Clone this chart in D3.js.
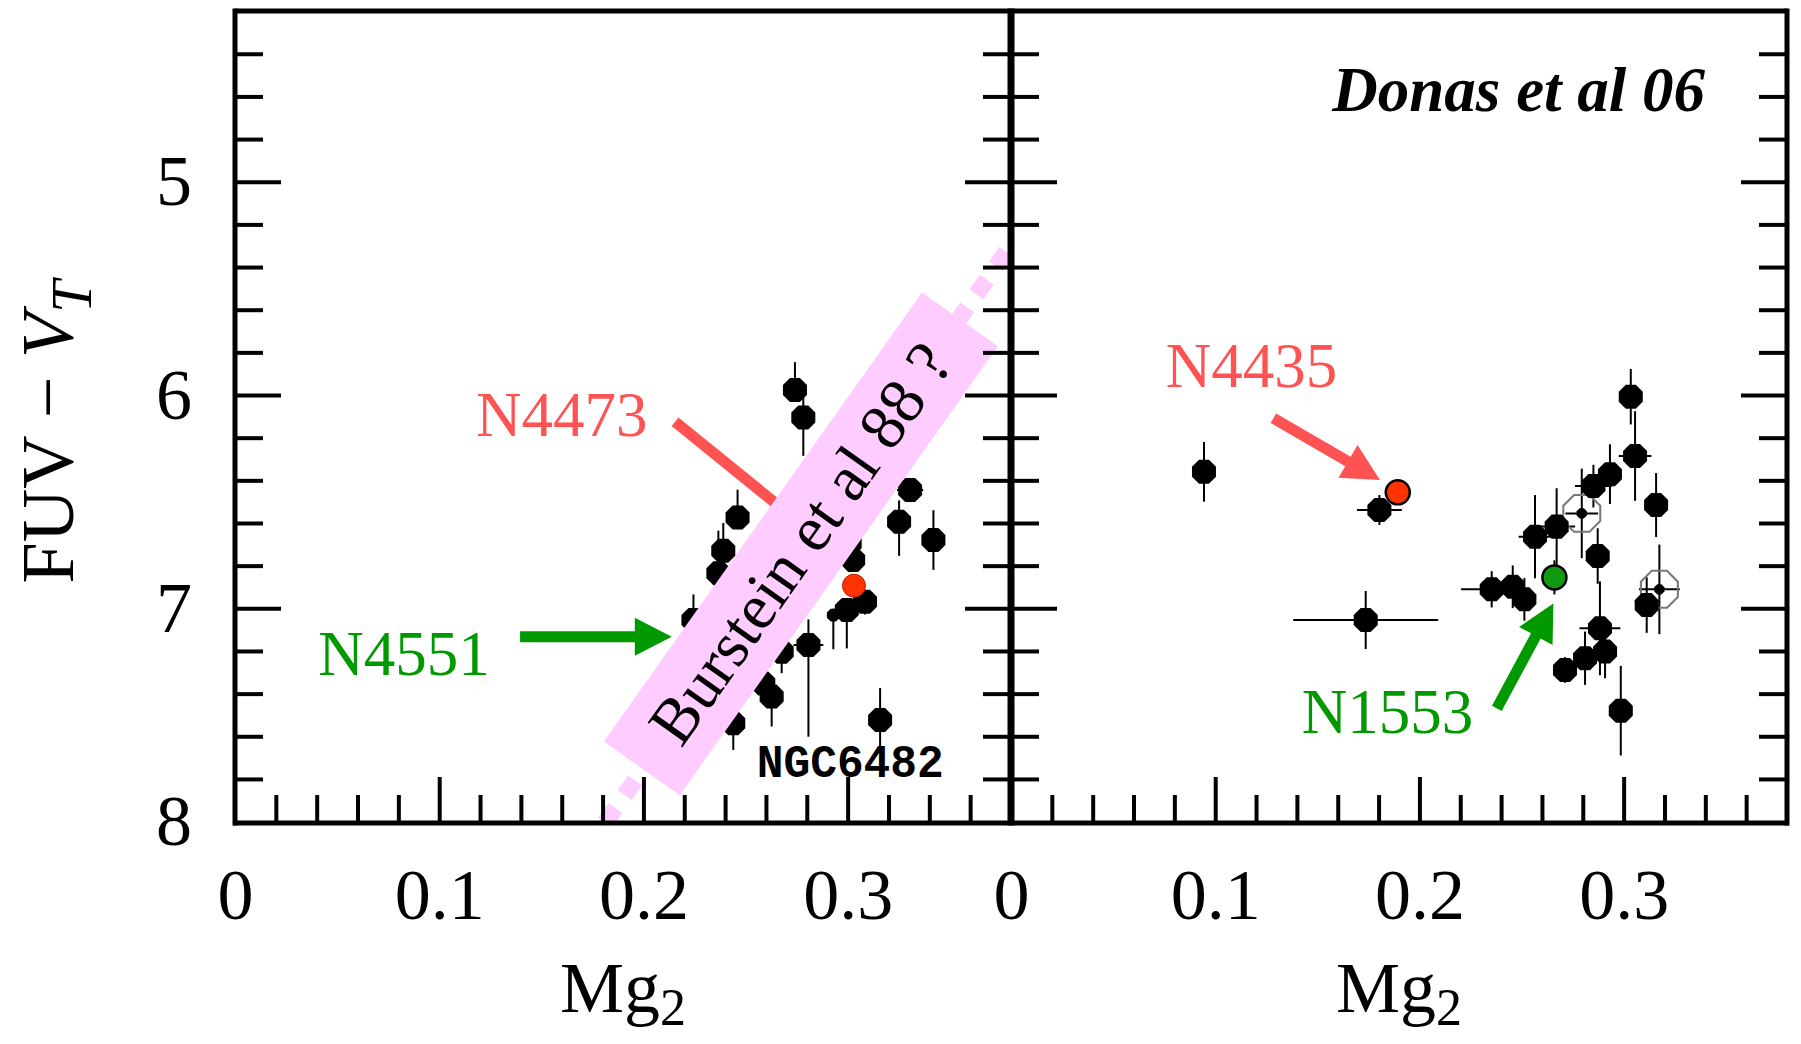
<!DOCTYPE html>
<html><head><meta charset="utf-8">
<script src="https://cdn.jsdelivr.net/npm/d3@7"></script>
<style>body{margin:0;background:#fff}svg{display:block}</style>
</head><body>
<svg id="c" width="1801" height="1044"></svg>
<script>
// ---------- axes / ticks ----------
const xDomain = [0, 0.38];
const yDomain = [4.2, 8];
const xTicksMajor = [0.1, 0.2, 0.3];
const xTicksMinor = [0.02,0.04,0.06,0.08,0.12,0.14,0.16,0.18,0.22,0.24,0.26,0.28,0.32,0.34,0.36];
const xTickValues = [0, 0.1, 0.2, 0.3];
const xTickLabels = ["0", "0.1", "0.2", "0.3"];
const yTicksMajor = [5, 6, 7];
const yTicksMinor = [4.4,4.6,4.8,5.2,5.4,5.6,5.8,6.2,6.4,6.6,6.8,7.2,7.4,7.6,7.8];
const yTickValues = [5, 6, 7, 8];
const yTickLabels = ["5", "6", "7", "8"];

// ---------- left panel (Mg2, FUV-V) ----------
const leftMg2   = [0.2742,0.2783,0.2461,0.2391,0.2367,0.2245,0.3306,0.3252,0.3420,0.3027,0.3010,0.3085,0.2996,0.2808,0.2677,0.2587,0.2628,0.2440,0.3159];
const leftFUV   = [5.976,6.105,6.574,6.730,6.836,7.055,6.445,6.594,6.680,6.773,6.695,6.969,7.008,7.172,7.204,7.352,7.414,7.539,7.524];
const leftErrUp = [0.13,0.15,0.13,0.13,0.20,0.12,0.05,0.10,0.14,0.05,0.05,0.05,0.05,0.12,0.05,0.05,0.05,0.05,0.15];
const leftErrDn = [0.05,0.18,0.05,0.05,0.05,0.05,0.05,0.16,0.14,0.05,0.05,0.06,0.18,0.43,0.10,0.08,0.14,0.125,0.125];
const leftErrX  = [0,0,0,0,0,0,0.0064,0,0,0,0,0,0,0.0073,0,0,0,0,0];
const leftSmallMg2 = [0.2930];
const leftSmallFUV = [7.032];
const leftSmallErrDn = [0.16];
const leftRedMg2 = [0.3031];
const leftRedFUV = [6.894];

// ---------- right panel (Donas et al 06) ----------
const rightMg2   = [0.0945,0.1804,0.1737,0.2354,0.2457,0.2514,0.2566,0.2672,0.2852,0.2933,0.3035,0.3056,0.3159,0.2873,0.3113,0.2884,0.2909,0.2811,0.2713,0.2986];
const rightFUV   = [6.360,6.539,7.055,6.911,6.899,6.958,6.664,6.617,6.427,6.371,6.008,6.286,6.516,6.755,6.985,7.094,7.203,7.234,7.289,7.480];
const rightErrY  = [0.14,0.07,0.136,0.085,0.10,0.10,0.195,0.18,0.10,0.14,0.13,0.21,0.15,0.13,0.13,0.22,0.125,0.125,0.06,0.21];
const rightErrX  = [0,0.011,0.0355,0.015,0,0,0.008,0.009,0.009,0,0,0.008,0,0,0,0.01,0,0,0,0];
const rightOpenMg2  = [0.2795, 0.3175];
const rightOpenFUV  = [6.555, 6.911];
const rightOpenErrY = [0.21, 0.21];
const rightOpenErrX = [0.008, 0.01];
const rightRedMg2 = [0.1894];
const rightRedFUV = [6.456];
const rightGreenMg2 = [0.2661];
const rightGreenFUV = [6.855];
const rightGreenErrY = [0.08];

// ---------- annotations (data coordinates) ----------
const bursteinLine = [[0.1812, 8.006], [0.381, 5.283]];
const bursteinBandAxis = [[0.1992, 7.751], [0.3550, 5.645]];
const bursteinText = "Burstein et al 88 ?";

const svg = d3.select("#c");
const W = 1801, H = 1044;
const xL = d3.scaleLinear().domain(xDomain).range([235, 1011]);
const xR = d3.scaleLinear().domain(xDomain).range([1011, 1787]);
const y = d3.scaleLinear().domain(yDomain).range([11.1, 821.6]);
const yBottom = 823, yTop = 11.1;

const SERIF = "'Liberation Serif','Times New Roman',serif";
const RED = "#ff5252", GREEN = "#009900", PINK = "#ffccff";

svg.append("rect").attr("width", W).attr("height", H).attr("fill", "#fff");

const defs = svg.append("defs");
defs.append("clipPath").attr("id","clipL").append("rect")
  .attr("x", 235).attr("y", yTop).attr("width", 1011-235).attr("height", yBottom-yTop);

function octagon(cx, cy, r) {
  const pts = d3.range(8).map(k => {
    const a = Math.PI/8 + k*Math.PI/4;
    return [cx + r*Math.cos(a), cy + r*Math.sin(a)];
  });
  return d3.line()(pts) + "Z";
}

function drawErr(g, x, pts) {
  pts.forEach(p => {
    if (p.eu || p.ed) {
      g.append("line").attr("x1", x(p.x)).attr("x2", x(p.x))
        .attr("y1", y(p.y - p.eu)).attr("y2", y(p.y + p.ed))
        .attr("stroke", "#000").attr("stroke-width", 2);
    }
    if (p.ex) {
      g.append("line").attr("x1", x(p.x - p.ex)).attr("x2", x(p.x + p.ex))
        .attr("y1", y(p.y)).attr("y2", y(p.y))
        .attr("stroke", "#000").attr("stroke-width", 2);
    }
  });
}

// ---------- left panel points ----------
const gL = svg.append("g");
const leftPts = leftMg2.map((v,i) => ({x:v, y:leftFUV[i], eu:leftErrUp[i], ed:leftErrDn[i], ex:leftErrX[i]}));
const leftSmall = leftSmallMg2.map((v,i) => ({x:v, y:leftSmallFUV[i], eu:0.03, ed:leftSmallErrDn[i], ex:0}));
drawErr(gL, xL, leftPts.concat(leftSmall));
gL.selectAll("path.dot").data(leftPts).join("path").attr("class","dot")
  .attr("d", d => octagon(xL(d.x), y(d.y), 13)).attr("fill", "#000");
gL.selectAll("path.sdot").data(leftSmall).join("path").attr("class","sdot")
  .attr("d", d => octagon(xL(d.x), y(d.y), 7)).attr("fill", "#000");
gL.selectAll("circle.red").data(leftRedMg2).join("circle").attr("class","red")
  .attr("cx", d => xL(d)).attr("cy", (d,i) => y(leftRedFUV[i])).attr("r", 11.5)
  .attr("fill", "#ff3300").attr("stroke", "#b02000").attr("stroke-width", 1);

// ---------- right panel points ----------
const gR = svg.append("g");
const rightPts = rightMg2.map((v,i) => ({x:v, y:rightFUV[i], eu:rightErrY[i], ed:rightErrY[i], ex:rightErrX[i]}));
const openPts = rightOpenMg2.map((v,i) => ({x:v, y:rightOpenFUV[i], eu:rightOpenErrY[i], ed:rightOpenErrY[i], ex:rightOpenErrX[i]}));
const greenPts = rightGreenMg2.map((v,i) => ({x:v, y:rightGreenFUV[i], eu:rightGreenErrY[i], ed:rightGreenErrY[i], ex:0}));
drawErr(gR, xR, rightPts.concat(openPts, greenPts));
gR.selectAll("path.oct").data(openPts).join("path").attr("class","oct")
  .attr("d", d => octagon(xR(d.x), y(d.y), 20)).attr("fill", "none")
  .attr("stroke", "#777").attr("stroke-width", 2);
gR.selectAll("path.odot").data(openPts).join("path").attr("class","odot")
  .attr("d", d => octagon(xR(d.x), y(d.y), 5.5)).attr("fill", "#000");
gR.selectAll("path.dot").data(rightPts).join("path").attr("class","dot")
  .attr("d", d => octagon(xR(d.x), y(d.y), 13)).attr("fill", "#000");
gR.selectAll("circle.red").data(rightRedMg2).join("circle").attr("class","red")
  .attr("cx", d => xR(d)).attr("cy", (d,i) => y(rightRedFUV[i])).attr("r", 12)
  .attr("fill", "#ff3300").attr("stroke", "#000").attr("stroke-width", 2.5);
gR.selectAll("circle.green").data(greenPts).join("circle").attr("class","green")
  .attr("cx", d => xR(d.x)).attr("cy", d => y(d.y)).attr("r", 12)
  .attr("fill", "#119911").attr("stroke", "#000").attr("stroke-width", 2.5);

// ---------- arrows ----------
function arrow(g, p0, p1, color, w, L, hw, head=true) {
  const dx = p1[0]-p0[0], dy = p1[1]-p0[1], len = Math.hypot(dx,dy);
  const u = [dx/len, dy/len], n = [-u[1], u[0]];
  if (!head) {
    g.append("line").attr("x1",p0[0]).attr("y1",p0[1]).attr("x2",p1[0]).attr("y2",p1[1])
      .attr("stroke",color).attr("stroke-width",w);
    return;
  }
  const b = [p1[0]-u[0]*L, p1[1]-u[1]*L];
  const pts = [
    [p0[0]+n[0]*w/2, p0[1]+n[1]*w/2],
    [b[0]+n[0]*w/2, b[1]+n[1]*w/2],
    [b[0]+n[0]*hw, b[1]+n[1]*hw],
    p1,
    [b[0]-n[0]*hw, b[1]-n[1]*hw],
    [b[0]-n[0]*w/2, b[1]-n[1]*w/2],
    [p0[0]-n[0]*w/2, p0[1]-n[1]*w/2]
  ];
  g.append("path").attr("d", d3.line()(pts)+"Z").attr("fill", color);
}
const ga = svg.append("g");
arrow(ga, [xL(0.2155), y(6.125)], [xL(0.2718), y(6.5626)], RED, 11, 0, 0, false);
arrow(ga, [xL(0.1396), y(7.133)], [xL(0.2139), y(7.133)], GREEN, 11, 37, 19);
arrow(ga, [xR(0.1285), y(6.109)], [xR(0.1807), y(6.398)], RED, 11, 37, 19);
arrow(ga, [xR(0.2379), y(7.469)], [xR(0.2656), y(6.977)], GREEN, 11, 37, 19);

function label(txt, px, py, color, size, extra) {
  const t = svg.append("text").attr("x", px).attr("y", py).text(txt)
    .attr("fill", color).attr("font-family", SERIF).attr("font-size", size);
  if (extra) extra(t);
  return t;
}
label("N4473", xL(0.118), y(6.193), RED, 63);
label("N4551", xL(0.0408), y(7.313), GREEN, 63);
label("N4435", xR(0.0758), y(5.963), RED, 63);
label("N1553", xR(0.1424), y(7.585), GREEN, 63);
label("Donas et al 06", xR(0.3399), y(4.67), "#000", 63, t => t.attr("text-anchor","end")
  .attr("font-weight","bold").attr("font-style","italic"));
svg.append("text").attr("x", xL(0.2555)).attr("y", y(7.79)).text("NGC6482")
  .attr("font-family", "'Liberation Mono','Courier New',monospace").attr("font-weight","bold")
  .attr("font-size", 46).attr("textLength", 187).attr("lengthAdjust","spacingAndGlyphs").attr("fill","#000");

// ---------- Burstein band ----------
const gb = svg.append("g").attr("clip-path","url(#clipL)");
gb.append("line")
  .attr("x1", xL(bursteinLine[0][0])).attr("y1", y(bursteinLine[0][1]))
  .attr("x2", xL(bursteinLine[1][0])).attr("y2", y(bursteinLine[1][1]))
  .attr("stroke", PINK).attr("stroke-width", 17).attr("stroke-dasharray", "18,16");
{
  const a = [xL(bursteinBandAxis[0][0]), y(bursteinBandAxis[0][1])];
  const b = [xL(bursteinBandAxis[1][0]), y(bursteinBandAxis[1][1])];
  const dx = b[0]-a[0], dy = b[1]-a[1], len = Math.hypot(dx,dy);
  const n = [-dy/len, dx/len], hw = 46.5;
  const poly = [[a[0]+n[0]*hw, a[1]+n[1]*hw],[b[0]+n[0]*hw, b[1]+n[1]*hw],
                [b[0]-n[0]*hw, b[1]-n[1]*hw],[a[0]-n[0]*hw, a[1]-n[1]*hw]];
  gb.append("path").attr("d", d3.line()(poly)+"Z").attr("fill", PINK);
  const cx = (a[0]+b[0])/2, cy = (a[1]+b[1])/2;
  const ang = Math.atan2(dy, dx)*180/Math.PI;
  gb.append("text").attr("transform", `translate(${cx},${cy}) rotate(${ang})`)
    .attr("text-anchor","middle").attr("y", 21).text(bursteinText)
    .attr("font-family", SERIF).attr("font-size", 65).attr("fill","#000");
}

// ---------- frame & ticks ----------
const gf = svg.append("g");
function tickAxis(gen, scale, vals, size, tx, ty) {
  const ax = gen(scale).tickValues(vals).tickSize(size).tickFormat("");
  const g = gf.append("g").attr("transform", `translate(${tx},${ty})`).call(ax);
  g.select(".domain").remove();
  g.selectAll(".tick line").attr("stroke","#000").attr("stroke-width",4);
}
[[d3.axisRight,235],[d3.axisLeft,1011],[d3.axisRight,1011],[d3.axisLeft,1787]].forEach(([gen,tx]) => {
  tickAxis(gen, y, yTicksMajor, 46, tx, 0);
  tickAxis(gen, y, yTicksMinor, 28, tx, 0);
});
[xL, xR].forEach(xs => {
  tickAxis(d3.axisTop, xs, xTicksMajor, 46, 0, yBottom);
  tickAxis(d3.axisTop, xs, xTicksMinor, 28, 0, yBottom);
});
gf.append("line").attr("x1",235).attr("x2",1787).attr("y1",yTop).attr("y2",yTop).attr("stroke","#000").attr("stroke-width",5);
gf.append("line").attr("x1",233).attr("x2",1789).attr("y1",yBottom).attr("y2",yBottom).attr("stroke","#000").attr("stroke-width",5);
[235, 1011, 1787].forEach((xx,i) => gf.append("line").attr("x1",xx).attr("x2",xx)
  .attr("y1",yTop-2.5).attr("y2",yBottom+2.5).attr("stroke","#000").attr("stroke-width", i===1?7:5));

// tick labels
const yLab = d3.axisLeft(y).tickValues(yTickValues).tickSize(0).tickPadding(0)
  .tickFormat((d,i) => yTickLabels[i]);
const gyl = svg.append("g").attr("transform","translate(192,0)").call(yLab);
gyl.select(".domain").remove();
gyl.selectAll("text").attr("font-family", SERIF).attr("font-size", 72).attr("fill","#000");
[xL, xR].forEach(xs => {
  const ax = d3.axisBottom(xs).tickValues(xTickValues).tickSize(0).tickPadding(45)
    .tickFormat((d,i) => xTickLabels[i]);
  const g = svg.append("g").attr("transform", `translate(0,${yBottom})`).call(ax);
  g.select(".domain").remove();
  g.selectAll("text").attr("font-family", SERIF).attr("font-size", 72).attr("fill","#000");
});

// axis titles
[xL, xR].forEach(xs => {
  const t = svg.append("text").attr("x", (xs.range()[0]+xs.range()[1])/2).attr("y", 1012)
    .attr("text-anchor","middle").attr("font-family", SERIF).attr("font-size", 72).attr("fill","#000");
  t.append("tspan").text("Mg");
  t.append("tspan").attr("font-size", 52).attr("dy", 13).text("2");
});
{
  const t = svg.append("text").attr("transform","translate(73,432) rotate(-90)")
    .attr("text-anchor","middle").attr("font-family", SERIF).attr("font-size", 74).attr("fill","#000");
  t.append("tspan").text("FUV \u2212 ");
  t.append("tspan").attr("font-style","italic").text("V");
  t.append("tspan").attr("font-style","italic").attr("font-size", 58).attr("dy", 18).text("T");
}
</script>
</body></html>
